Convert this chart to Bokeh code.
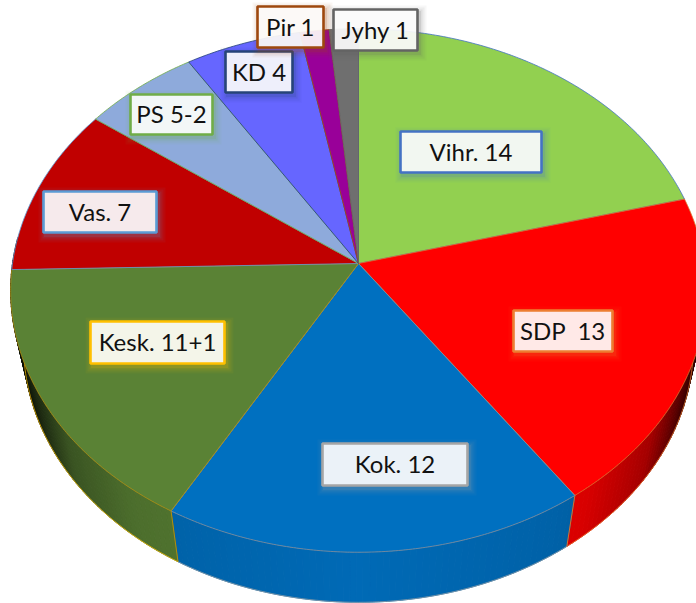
import numpy as np
from bokeh.plotting import figure, ColumnDataSource
from bokeh.models import Range1d
from bokeh.core.properties import value
from bokeh.embed import file_html
from bokeh.resources import INLINE

# data
parties = ["Vihr.", "SDP", "Kok.", "Kesk.", "Vas.", "PS", "KD", "Pir", "Jyhy"]
seats = [14, 13, 12, 11, 7, 4, 4, 1, 1]
labels = ["Vihr. 14", "SDP \u00a013", "Kok. 12", "Kesk. 11+1", "Vas. 7", "PS 5-2", "KD 4", "Pir 1", "Jyhy 1"]

# style
slice_colors = ["#92d050", "#ff0000", "#0070c0", "#5a8235", "#c00000", "#8eaadb", "#6666ff", "#990099", "#6f6f6f"]
edge_colors = ["#4472c4", "#d9702c", "#8a8f98", "#b08d10", "#5b9bd5", "#70ad47", "#264478", "#9e480e", "#636363"]
label_edges = ["#4472c4", "#ed7d31", "#a5a5a5", "#ffc000", "#5b9bd5", "#70ad47", "#264478", "#9e480e", "#636363"]
# label boxes (left, right, top, bottom) in page pixels
label_boxes = [(400, 541, 131, 172), (513, 612, 310, 351), (322, 467, 443, 485),
               (90, 224, 321, 363), (43, 156, 191, 232), (130, 212, 94, 134),
               (225, 292, 51, 92), (257, 323, 6, 47), (333, 417, 9, 50)]

# projection of the tilted disc
CX, CY, A, B, K = 358.0, 263.0, 346.0, 259.0, 0.103
# lower rim of the side wall, relative to the upper rim
SX, SY, Y_FROM, Y_TO = 0.963, 0.985, 290.0, 344.0


def rim(theta):
    u, v = np.sin(theta), -np.cos(theta)
    d = 1 - K * v
    return CX + A * u / d, CY + B * v / d


def lower(x, y):
    return CX + SX * (x - CX), Y_TO + SY * (y - Y_FROM)


def hexrgb(c):
    return np.array([int(c[i:i + 2], 16) for i in (1, 3, 5)], dtype=float)


def shade(c, f):
    r = np.clip(hexrgb(c) * f, 0, 255).astype(int)
    return "#%02x%02x%02x" % tuple(r)


edges = np.concatenate([[0], np.cumsum(seats)]) / np.sum(seats) * 2 * np.pi

p = figure(width=696, height=603, output_backend="svg", toolbar_location=None,
           x_axis_type=None, y_axis_type=None, min_border=0,
           x_range=Range1d(0, 696), y_range=Range1d(603, 0))
p.outline_line_color = None
p.grid.visible = False
p.background_fill_color = "white"
p.border_fill_color = "white"

# side wall, drawn as thin shaded strips
sx, sy, sc = [], [], []
for i, col in enumerate(slice_colors):
    t0, t1 = edges[i], edges[i + 1]
    n = max(int(np.degrees(t1 - t0)), 1)
    ts = np.linspace(t0, t1, n + 1)
    for a, b in zip(ts[:-1], ts[1:]):
        if not (np.pi / 2 - 0.1 <= a <= 3 * np.pi / 2 + 0.1):
            continue
        xa, ya = rim(a)
        xb, yb = rim(b)
        xa2, ya2 = lower(xa, ya)
        xb2, yb2 = lower(xb, yb)
        sx.append([xa, xb, xb2, xa2])
        sy.append([ya, yb, yb2, ya2])
        nx = abs((xa + xb) / 2 - CX) / 348
        f = np.interp(nx, [0, .55, .66, .84, .94, 1.0], [.95, .88, .85, .65, .3, .1])
        sc.append(shade(col, f))
p.patches("x", "y", source=ColumnDataSource(dict(x=sx, y=sy, c=sc)),
          fill_color="c", line_color="c", line_width=1)

# thin outline along the lower rim of the three front slices
for i in (1, 2, 3):
    ts = np.linspace(max(edges[i], np.pi / 2), edges[i + 1], 60)
    lx, ly = lower(*rim(ts))
    p.line(lx, ly, line_color=label_edges[i], line_width=1, line_alpha=0.7)

# side seams
for t, col in ((edges[2], edge_colors[1]), (edges[3], edge_colors[3])):
    x0, y0 = rim(t)
    x1, y1 = lower(x0, y0)
    p.line([x0, x1], [y0, y1], line_color=col, line_width=1)

# top face
wx, wy = [], []
for i in range(len(seats)):
    n = max(int(np.degrees(edges[i + 1] - edges[i])) * 2, 2)
    ts = np.linspace(edges[i], edges[i + 1], n)
    x, y = rim(ts)
    wx.append(np.concatenate([[CX], x]).tolist())
    wy.append(np.concatenate([[CY], y]).tolist())
p.patches("x", "y", source=ColumnDataSource(dict(x=wx, y=wy, c=slice_colors, e=edge_colors)),
          fill_color="c", line_color="e", line_width=1, line_alpha=0.8)

# labels
for (l, r, t, b), ec, txt in zip(label_boxes, label_edges, labels):
    for g, a in ((7, .05), (5, .07), (3, .10), (1.5, .14)):
        p.quad(left=[l - g + 2], right=[r + g + 2], top=[t - g + 3], bottom=[b + g + 3],
               fill_color=ec, fill_alpha=a, line_color=None)
    p.quad(left=[l], right=[r], top=[t], bottom=[b], fill_color="white", fill_alpha=0.9,
           line_color=ec, line_width=2.6)
    p.text(x=[(l + r) / 2], y=[(t + b) / 2 - 1], text=[txt], text_align="center",
           text_baseline="middle", text_font=value("Lato"), text_font_size="24px",
           text_color="#111111")

open("out.html", "w").write(file_html(p, INLINE))
